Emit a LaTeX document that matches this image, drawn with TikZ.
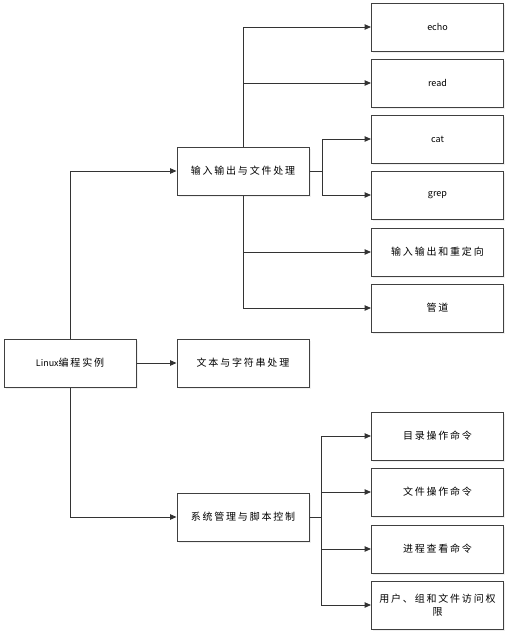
\documentclass[tikz,border=0pt]{standalone}
\usepackage{fontspec}
\setmainfont{Noto Sans CJK SC}
\newfontfamily\cjk[LetterSpace=18]{Noto Sans CJK SC}
\usetikzlibrary{arrows.meta,shadows}

\begin{document}
\begin{tikzpicture}[x=1pt,y=-1pt,line width=1pt,
        main/.style = {draw=black!75, fill=white, minimum width=132pt, minimum height=48pt, align=center,
            font=\cjk\fontsize{10pt}{13pt}\selectfont,
            drop shadow={opacity=0.12, shadow xshift=1.5pt, shadow yshift=-1.5pt}},
        word/.style = {main, font=\fontsize{9pt}{13pt}\selectfont},
        arrow/.style = {draw=black!80, -{Triangle[length=6.5pt,width=5.5pt]}},
        link/.style = {draw=black!80}]
        \useasboundingbox (0,0) rectangle (510,638);
        \node[main] (Linux) at (70,363) {{\normalfont\fontsize{9pt}{13pt}\selectfont Linux}编程实例};
        \node[main] (IO) at (243,171) {输入输出与文件处理};
        \node[main] (Text) at (243,363) {文本与字符串处理};
        \node[main] (Sys) at (243,517) {系统管理与脚本控制};
        \node[word] (Echo) at (437.5,27) {echo};
        \node[word] (Read) at (437.5,83) {read};
        \node[word] (Cat) at (437.5,139) {cat};
        \node[word] (Grep) at (437.5,195) {grep};
        \node[main] (Redirect) at (437.5,252) {输入输出和重定向};
        \node[main] (Pipe) at (437.5,308) {管道};
        \node[main] (Dir) at (437.5,436) {目录操作命令};
        \node[main] (File) at (437.5,492) {文件操作命令};
        \node[main] (Proc) at (437.5,549) {进程查看命令};
        \node[main] (Perm) at (437.5,605) {用户、组和文件访问权\\限};
        \coordinate (IOFork) at ([xshift=13pt]IO.east);
        \coordinate (SysFork) at ([xshift=12pt]Sys.east);
        \draw[arrow] (Linux.north) |- (IO.west);
        \draw[arrow] (Linux.east) -- (Text.west);
        \draw[arrow] (Linux.south) |- (Sys.west);
        \draw[arrow] (IO.north) |- (Echo.west);
        \draw[arrow] (IO.north) |- (Read.west);
        \draw[link] (IO.east) -- (IOFork);
        \draw[arrow] (IOFork) |- (Cat.west);
        \draw[arrow] (IOFork) |- (Grep.west);
        \draw[arrow] (IO.south) |- (Redirect.west);
        \draw[arrow] (IO.south) |- (Pipe.west);
        \draw[link] (Sys.east) -- (SysFork);
        \draw[arrow] (SysFork) |- (Dir.west);
        \draw[arrow] (SysFork) |- (File.west);
        \draw[arrow] (SysFork) |- (Proc.west);
        \draw[arrow] (SysFork) |- (Perm.west);
    \end{tikzpicture}
\end{document}
